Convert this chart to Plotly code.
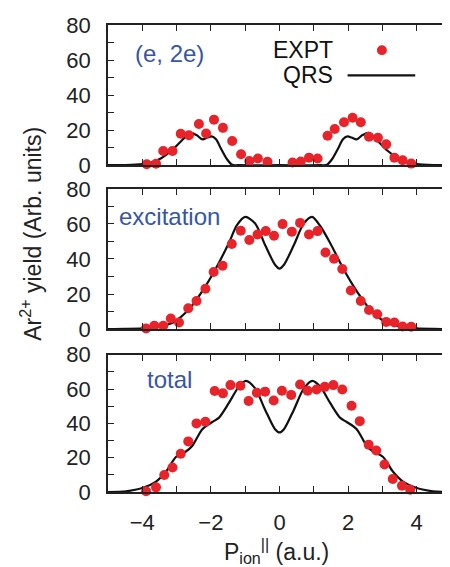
import plotly.graph_objects as go

# ---------------- data ----------------
# (e, 2e) panel
ee_expt_x = [-3.87, -3.60, -3.39, -3.12, -2.88, -2.64, -2.35, -2.14, -1.91, -1.65, -1.38, -1.12,
             -0.88, -0.63, -0.35, 0.38, 0.62, 0.86, 1.11, 1.40, 1.61, 1.88, 2.13, 2.37, 2.61,
             2.87, 3.11, 3.35, 3.59, 3.84]
ee_expt_y = [0.5, 0.8, 8.1, 8.1, 17.9, 17.1, 23.5, 18.1, 26.0, 21.3, 13.8, 6.2,
             2.4, 3.8, 1.9, 1.5, 2.1, 4.3, 3.8, 16.8, 20.7, 24.5, 27.1, 24.5, 16.2,
             15.6, 11.9, 4.3, 2.8, 0.9]
ee_qrs_x = [-5.0, -4.5, -4.0, -3.74, -3.45, -3.16, -2.87, -2.6, -2.42, -2.25, -2.1, -1.98, -1.85,
            -1.72, -1.53, -1.38, -1.2, 0.0, 1.2, 1.38, 1.53, 1.72, 1.85, 1.98, 2.1, 2.25, 2.42,
            2.6, 2.87, 3.16, 3.45, 3.74, 4.0, 4.5, 5.0]
ee_qrs_y = [0.0, 0.1, 0.6, 1.5, 4.0, 8.1, 13.7, 18.4, 17.2, 14.7, 15.8, 16.4, 14.8,
            10.0, 3.4, 0.2, 0.0, 0.0, 0.0, 0.2, 3.4, 10.0, 14.8, 16.4, 15.8, 14.7, 17.2,
            18.4, 13.7, 8.1, 4.0, 1.5, 0.6, 0.1, 0.0]

# excitation panel
ex_expt_x = [-3.89, -3.65, -3.39, -3.17, -2.93, -2.66, -2.42, -2.16, -1.92, -1.66, -1.39, -1.13,
             -0.88, -0.64, -0.40, -0.16, 0.09, 0.36, 0.60, 0.86, 1.11, 1.34, 1.59, 1.83, 2.08,
             2.37, 2.61, 2.85, 3.11, 3.35, 3.59, 3.84]
ex_expt_y = [0.3, 1.9, 1.9, 6.0, 3.8, 11.9, 16.0, 23.0, 32.6, 36.2, 48.6, 56.1,
             50.8, 54.0, 55.9, 53.3, 59.9, 55.6, 60.6, 54.0, 55.9, 43.7, 40.1, 34.3, 22.0,
             16.0, 10.9, 8.5, 4.1, 3.8, 1.5, 1.3]
ex_qrs_x = [-5.0, -4.5, -4.0, -3.5, -3.1, -2.64, -2.25, -1.9, -1.48, -1.24, -1.0, -0.71, -0.42,
            -0.13, 0.0, 0.13, 0.42, 0.71, 0.95, 1.2, 1.48, 1.9, 2.25, 2.64, 3.1, 3.5, 4.0, 4.5, 5.0]
ex_qrs_y = [0.0, 0.1, 0.4, 1.5, 3.8, 11.3, 21.7, 33.0, 49.0, 59.3, 64.0, 60.3, 48.0,
            36.7, 34.5, 36.7, 48.0, 60.3, 64.0, 58.4, 49.0, 33.0, 21.7, 11.3, 3.8, 1.5, 0.4, 0.1, 0.0]

# total panel
tot_expt_x = [-3.89, -3.60, -3.36, -3.12, -2.88, -2.66, -2.42, -2.16, -1.89, -1.65, -1.43, -1.14,
              -0.90, -0.66, -0.42, -0.17, 0.07, 0.34, 0.60, 0.82, 1.08, 1.32, 1.57, 1.83, 2.10,
              2.34, 2.60, 2.82, 3.06, 3.30, 3.57, 3.81]
tot_expt_y = [0.4, 2.7, 9.9, 14.3, 22.3, 29.5, 40.0, 41.0, 58.9, 57.5, 62.3, 61.9,
              53.1, 57.9, 58.5, 53.3, 59.0, 56.6, 62.7, 59.0, 59.8, 61.3, 62.3, 59.8, 50.3,
              41.3, 27.6, 24.2, 16.0, 7.6, 3.6, 1.3]
tot_qrs_x = [-5.0, -4.47, -4.0, -3.6, -3.31, -3.02, -2.73, -2.54, -2.25, -1.96, -1.77, -1.48,
             -1.19, -0.98, -0.71, -0.42, -0.13, 0.0, 0.13, 0.42, 0.71, 0.96, 1.19, 1.48, 1.77,
             1.96, 2.25, 2.54, 2.73, 3.02, 3.31, 3.6, 4.0, 4.47, 5.0]
tot_qrs_y = [0.0, 0.4, 2.3, 6.1, 11.8, 20.4, 23.6, 27.0, 36.6, 40.8, 43.2, 51.8,
             61.3, 64.8, 60.4, 48.0, 36.6, 34.7, 36.6, 48.0, 60.4, 64.8, 61.3, 51.8, 43.2,
             40.8, 36.6, 27.0, 23.6, 20.4, 11.8, 6.1, 2.3, 0.4, 0.0]

panel_labels = ["(e, 2e)", "excitation", "total"]
legend_labels = ["EXPT", "QRS"]

# ---------------- style ----------------
OFF = 8  # page body margin offset
W, H = 450, 567
# plot area in window pixels: left 108, right 453, top 19, bottom 492
L = 108 - OFF
T = 19 - OFF
R = W - (453 - OFF)
B = H - (492 - OFF)
PW, PH = W - L - R, H - T - B
FONT = "Liberation Sans, Arial, sans-serif"
RED = "#e8232a"
BLUE = "#3755a6"
AX = "#222222"


def px2paper(px, py):
    """window pixel -> paper coords"""
    fx, fy = px - OFF, py - OFF
    return (fx - L) / PW, (H - B - fy) / PH


panel_px = [(19, 161), (185, 327), (353, 492)]
domains = []
for top, bot in panel_px:
    domains.append([px2paper(0, bot)[1], px2paper(0, top)[1]])

fig = go.Figure()

datasets = [
    (ee_expt_x, ee_expt_y, ee_qrs_x, ee_qrs_y),
    (ex_expt_x, ex_expt_y, ex_qrs_x, ex_qrs_y),
    (tot_expt_x, tot_expt_y, tot_qrs_x, tot_qrs_y),
]

for i, (ex, ey, qx, qy) in enumerate(datasets):
    xa = "x" if i == 0 else f"x{i+1}"
    ya = "y" if i == 0 else f"y{i+1}"
    fig.add_trace(go.Scatter(x=qx, y=qy, mode="lines", xaxis=xa, yaxis=ya,
                             line=dict(color="#111111", width=2.2, shape="spline", smoothing=0.8),
                             showlegend=False, cliponaxis=True))
    fig.add_trace(go.Scatter(x=ex, y=ey, mode="markers", xaxis=xa, yaxis=ya,
                             marker=dict(color=RED, size=10, line=dict(width=0)),
                             showlegend=False, cliponaxis=False))

for i in range(3):
    xkey = "xaxis" if i == 0 else f"xaxis{i+1}"
    ykey = "yaxis" if i == 0 else f"yaxis{i+1}"
    yanchor = "y" if i == 0 else f"y{i+1}"
    xanchor = "x" if i == 0 else f"x{i+1}"
    fig.layout[xkey] = dict(
        domain=[0, 1], anchor=yanchor, range=[-5, 5],
        tickmode="linear", tick0=-4, dtick=2,
        ticks="inside", ticklen=6, tickwidth=1.3, tickcolor=AX,
        minor=dict(dtick=1, tick0=0, ticks="inside", ticklen=6, tickwidth=1.3, tickcolor=AX),
        showline=True, linecolor=AX, linewidth=1.6, mirror="ticks",
        showgrid=False, zeroline=False,
        showticklabels=(i == 2),
        tickfont=dict(family=FONT, size=22, color=AX),
        ticklabelstandoff=10,
    )
    if i > 0:
        fig.layout[xkey].matches = "x"
    fig.layout[ykey] = dict(
        domain=domains[i], anchor=xanchor, range=[0, 80],
        tickmode="linear", tick0=0, dtick=20,
        ticks="inside", ticklen=6, tickwidth=1.3, tickcolor=AX,
        minor=dict(dtick=10, ticks="inside", ticklen=6, tickwidth=1.3, tickcolor=AX),
        showline=True, linecolor=AX, linewidth=1.6, mirror="ticks",
        showgrid=False, zeroline=False,
        tickfont=dict(family=FONT, size=22, color=AX),
        ticklabelstandoff=11,
    )

annotations = []
# panel labels
for lab, (cx, cy) in zip(panel_labels, [(170, 48), (170, 213), (170, 378)]):
    x, y = px2paper(cx, cy)
    annotations.append(dict(text=lab, x=x, y=y, xref="paper", yref="paper",
                            xanchor="center", yanchor="middle", showarrow=False,
                            font=dict(family=FONT, size=24, color=BLUE)))
# legend texts
for lab, cy in zip(legend_labels, [44.5, 70]):
    x, y = px2paper(336, cy)
    annotations.append(dict(text=lab, x=x, y=y, xref="paper", yref="paper",
                            xanchor="right", yanchor="middle", showarrow=False,
                            font=dict(family=FONT, size=23, color="#111111")))
# axis titles
x, y = px2paper(31, 230)
annotations.append(dict(text="Ar<sup>2+</sup> yield (Arb. units)", x=x, y=y,
                        xref="paper", yref="paper", textangle=-90,
                        xanchor="center", yanchor="middle", showarrow=False,
                        font=dict(family=FONT, size=23, color=AX)))
x, y = px2paper(277, 552)
annotations.append(dict(text="P<sub>ion</sub><sup>||</sup> (a.u.)", x=x, y=y,
                        xref="paper", yref="paper",
                        xanchor="center", yanchor="middle", showarrow=False,
                        font=dict(family=FONT, size=23, color=AX)))

shapes = []
# legend samples
x0, y0 = px2paper(383.5 - 5, 44.5 - 5)
x1, y1 = px2paper(383.5 + 5, 44.5 + 5)
shapes.append(dict(type="circle", xref="paper", yref="paper", x0=x0, x1=x1, y0=y1, y1=y0,
                   fillcolor=RED, line=dict(width=0)))
x0, y0 = px2paper(349, 70)
x1, _ = px2paper(417, 70)
shapes.append(dict(type="line", xref="paper", yref="paper", x0=x0, x1=x1, y0=y0, y1=y0,
                   line=dict(color="#111111", width=2.2)))

fig.update_layout(
    width=W, height=H,
    margin=dict(l=L, r=R, t=T, b=B, pad=0),
    paper_bgcolor="white", plot_bgcolor="white",
    showlegend=False,
    annotations=annotations, shapes=shapes,
    font=dict(family=FONT),
)

fig.write_html("out.html")
